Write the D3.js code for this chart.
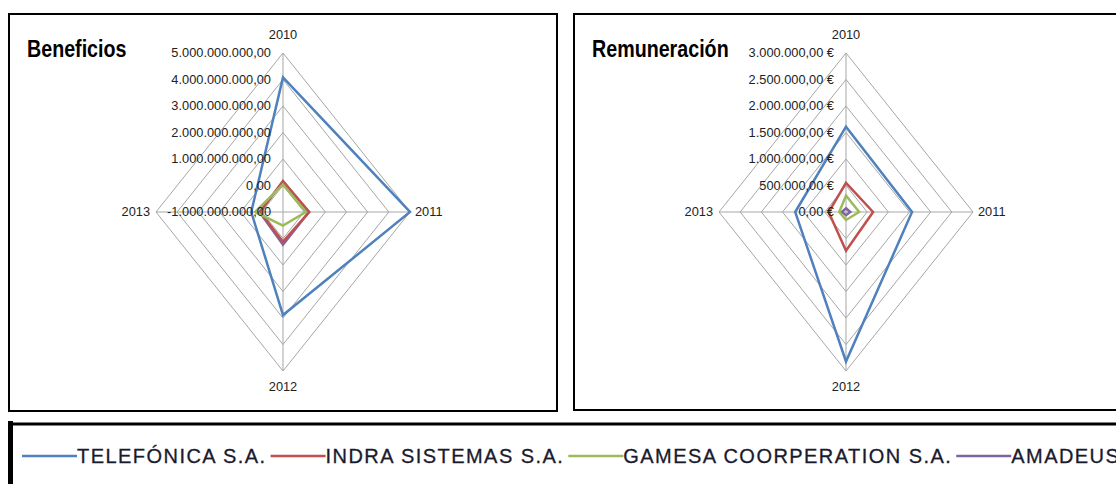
<!DOCTYPE html>
<html>
<head>
<meta charset="utf-8">
<script src="https://cdn.jsdelivr.net/npm/d3@7"></script>
<style>
  body { margin: 0; background: #fff; }
  svg { display: block; }
</style>
</head>
<body>
<script>
// radar charts: beneficios + remuneracion, with legend below

var years = ["2010", "2011", "2012", "2013"];
var companies = ["TELEFÓNICA S.A.", "INDRA SISTEMAS S.A.", "GAMESA COORPERATION S.A.", "AMADEUS"];
var colors = ["#4F81BD", "#C0504D", "#9BBB59", "#8064A2"];

// Beneficios (euros), one array per company, in year order
var benTelefonica = [4.08e9, 5.0e9, 2.89e9, 0.5e9];
var benIndra      = [0.17e9, 0.24e9, 0.12e9, 0.08e9];
var benGamesa     = [0.04e9, 0.08e9, -0.49e9, 0.32e9];
var benAmadeus    = [0.15e9, 0.22e9, 0.23e9, 0.11e9];
var benTicks = [-1e9, 0, 1e9, 2e9, 3e9, 4e9, 5e9];
var benTickLabels = ["-1.000.000.000,00", "0,00", "1.000.000.000,00", "2.000.000.000,00",
                     "3.000.000.000,00", "4.000.000.000,00", "5.000.000.000,00"];

// Remuneracion (euros)
var remTelefonica = [1.61e6, 1.56e6, 2.82e6, 1.2e6];
var remIndra      = [0.55e6, 0.64e6, 0.73e6, 0.41e6];
var remGamesa     = [0.31e6, 0.31e6, 0.15e6, 0.16e6];
var remAmadeus    = [0.07e6, 0.1e6, 0.06e6, 0.1e6];
var remTicks = [0, 0.5e6, 1e6, 1.5e6, 2e6, 2.5e6, 3e6];
var remTickLabels = ["0,00 €", "500.000,00 €", "1.000.000,00 €", "1.500.000,00 €",
                     "2.000.000,00 €", "2.500.000,00 €", "3.000.000,00 €"];

var w = 1116, h = 484;
var font = "'Liberation Sans', Arial, sans-serif";
var squeeze = 0.82; // titles in the original are squashed sideways

var svg = d3.select("body").append("svg")
    .attr("width", w)
    .attr("height", h);

//chart frames
svg.append("rect")
    .attr("x", 9).attr("y", 14)
    .attr("width", 548).attr("height", 397)
    .attr("fill", "none").attr("stroke", "#000").attr("stroke-width", 2);

svg.append("rect")
    .attr("x", 574).attr("y", 14)
    .attr("width", 600).attr("height", 396)
    .attr("fill", "none").attr("stroke", "#000").attr("stroke-width", 2);

function drawRadar(opts) {
    var g = svg.append("g");
    var r = d3.scaleLinear().domain(d3.extent(opts.ticks)).range([0, 1]);
    var angle = d3.scalePoint().domain(years).range([0, 2 * Math.PI * 3 / 4]);

    function pt(year, v) {
        var a = angle(year), f = r(v);
        return [opts.cx + opts.rx * f * Math.sin(a), opts.cy - opts.ry * f * Math.cos(a)];
    }

    var line = d3.line().curve(d3.curveLinearClosed);

    //grid rings
    g.selectAll(".ring")
        .data(opts.ticks.slice(1))
        .enter().append("path")
        .attr("class", "ring")
        .attr("d", function(t) { return line(years.map(function(y) { return pt(y, t); })); })
        .attr("fill", "none")
        .attr("stroke", "#A6A6A6")
        .attr("stroke-width", 1);

    //spokes
    var top = opts.ticks[opts.ticks.length - 1];
    g.selectAll(".spoke")
        .data(years)
        .enter().append("line")
        .attr("class", "spoke")
        .attr("x1", opts.cx).attr("y1", opts.cy)
        .attr("x2", function(y) { return pt(y, top)[0]; })
        .attr("y2", function(y) { return pt(y, top)[1]; })
        .attr("stroke", "#A6A6A6")
        .attr("stroke-width", 1);

    //series (purple goes underneath)
    var order = [3, 0, 1, 2];
    g.selectAll(".series")
        .data(order)
        .enter().append("path")
        .attr("class", "series")
        .attr("d", function(i) {
            return line(years.map(function(y, k) { return pt(y, opts.series[i][k]); }));
        })
        .attr("fill", "none")
        .attr("stroke", function(i) { return colors[i]; })
        .attr("stroke-width", 2.5)
        .attr("stroke-linejoin", "miter");

    //value labels up the 2010 spoke
    g.selectAll(".tick")
        .data(opts.ticks)
        .enter().append("text")
        .attr("class", "tick")
        .attr("x", opts.cx - 12)
        .attr("y", function(t) { return pt(years[0], t)[1]; })
        .attr("dy", "0.35em")
        .attr("text-anchor", "end")
        .attr("font-family", font)
        .attr("font-size", 12.8)
        .attr("fill", "#222")
        .text(function(t, i) { return opts.tickLabels[i]; });

    //category labels
    var catPos = [
        {dx: 0, dy: -18, anchor: "middle"},
        {dx: 5, dy: 0, anchor: "start"},
        {dx: 0, dy: 16, anchor: "middle"},
        {dx: -6, dy: 0, anchor: "end"}
    ];
    g.selectAll(".cat")
        .data(years)
        .enter().append("text")
        .attr("class", "cat")
        .attr("x", function(y, i) { return pt(y, top)[0] + catPos[i].dx; })
        .attr("y", function(y, i) { return pt(y, top)[1] + catPos[i].dy; })
        .attr("dy", "0.35em")
        .attr("text-anchor", function(y, i) { return catPos[i].anchor; })
        .attr("font-family", font)
        .attr("font-size", 12.8)
        .attr("fill", "#222")
        .text(function(y) { return y; });

    //title
    g.append("text")
        .attr("transform", "translate(" + opts.titleX + ",57) scale(" + squeeze + ",1)")
        .attr("font-family", font)
        .attr("font-weight", "bold")
        .attr("font-size", 24)
        .attr("fill", "#000")
        .text(opts.title);
}

drawRadar({
    title: "Beneficios", titleX: 27,
    cx: 283, cy: 212, rx: 127, ry: 159,
    ticks: benTicks, tickLabels: benTickLabels,
    series: [benTelefonica, benIndra, benGamesa, benAmadeus]
});

drawRadar({
    title: "Remuneración", titleX: 592,
    cx: 846, cy: 212, rx: 127, ry: 159,
    ticks: remTicks, tickLabels: remTickLabels,
    series: [remTelefonica, remIndra, remGamesa, remAmadeus]
});

//legend box: heavy top and left edges
svg.append("line")
    .attr("x1", 8).attr("x2", w)
    .attr("y1", 424).attr("y2", 424)
    .attr("stroke", "#000").attr("stroke-width", 3);
svg.append("line")
    .attr("x1", 10.5).attr("x2", 10.5)
    .attr("y1", 421).attr("y2", h)
    .attr("stroke", "#000").attr("stroke-width", 5);

var legend = svg.append("g");
var lx = 22, ly = 456;
companies.forEach(function(name, i) {
    legend.append("line")
        .attr("x1", lx).attr("x2", lx + 55)
        .attr("y1", ly).attr("y2", ly)
        .attr("stroke", colors[i])
        .attr("stroke-width", 2.5);
    var t = legend.append("text")
        .attr("x", lx + 55)
        .attr("y", ly)
        .attr("dy", "0.35em")
        .attr("font-family", font)
        .attr("font-size", 20)
        .attr("letter-spacing", 1.45)
        .attr("fill", "#1a1a2e")
        .attr("stroke", "#1a1a2e")
        .attr("stroke-width", 0.3)
        .text(name);
    lx = lx + 55 + t.node().getComputedTextLength() + 4;
});
</script>
</body>
</html>
